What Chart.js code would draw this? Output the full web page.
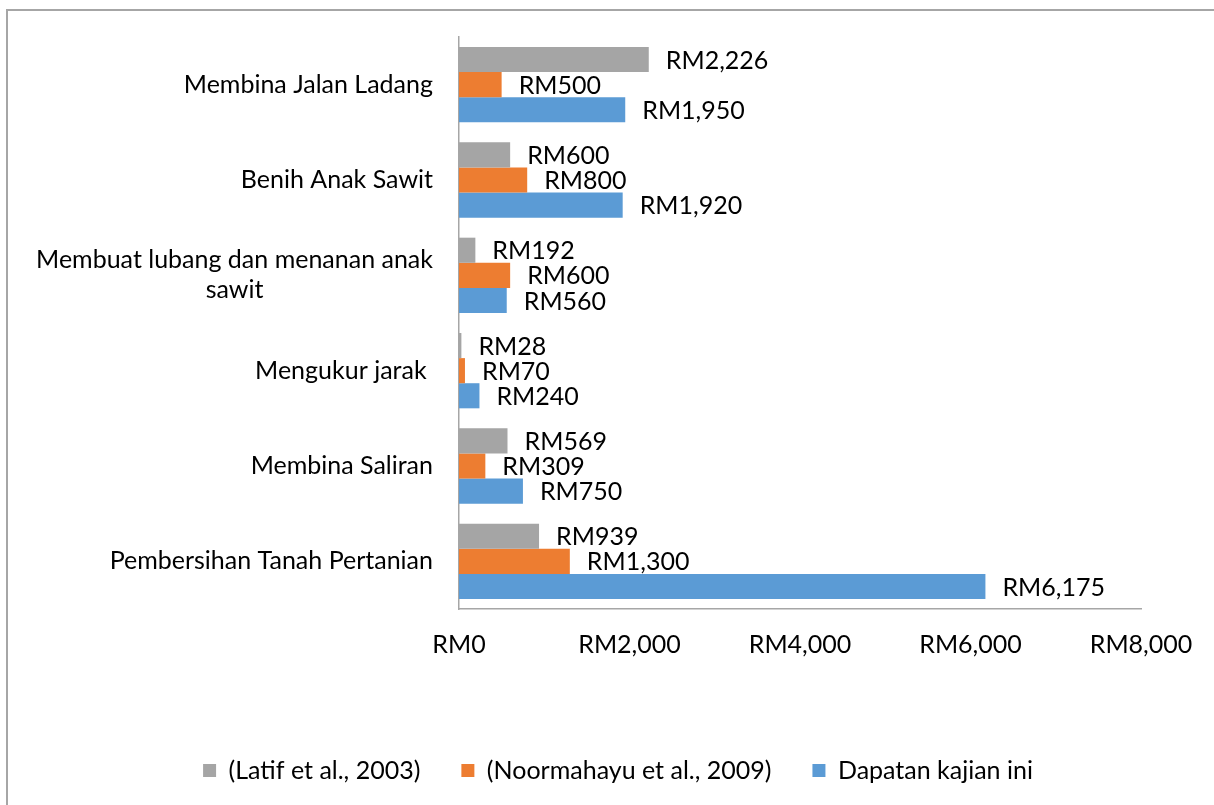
<!DOCTYPE html>
<html>
<head>
<meta charset="utf-8">
<script src="https://cdn.jsdelivr.net/npm/chart.js@4.4.1/dist/chart.umd.min.js"></script>
<style>
    body { margin: 0; background: #ffffff; overflow: hidden; }
    #wrap { position: relative; width: 1214px; height: 805px; }
    #frame {
        position: absolute; left: 6px; top: 9px; right: -10px; bottom: -10px;
        border-left: 2px solid #a6a6a6; border-top: 2px solid #a6a6a6;
        pointer-events: none;
    }
</style>
</head>
<body>
<div id="wrap">
    <canvas id="cost-chart" width="1214" height="805"></canvas>
    <div id="frame"></div>
</div>
<script>
// Categories (top to bottom), wrapped lines as arrays
const categories = [
    ['Membina Jalan Ladang'],
    ['Benih Anak Sawit'],
    ['Membuat lubang dan menanan anak', 'sawit'],
    ['Mengukur jarak '],
    ['Membina Saliran'],
    ['Pembersihan Tanah Pertanian']
];

// Series values (RM)
const latif2003 = [2226, 600, 192, 28, 569, 939];
const noormahayu2009 = [500, 800, 600, 70, 309, 1300];
const dapatanKajian = [1950, 1920, 560, 240, 750, 6175];

const seriesNames = ['(Latif et al., 2003)', '(Noormahayu et al., 2009)', 'Dapatan kajian ini'];

// Axis ticks
const xTicks = [0, 2000, 4000, 6000, 8000];

const FONT = 'Lato, "Open Sans", sans-serif';
const FONT_SIZE = 25;

function formatRM(v) {
    return 'RM' + Number(v).toLocaleString('en-US');
}

// Draw value labels at the end of each bar
const barValueLabels = {
    id: 'barValueLabels',
    afterDatasetsDraw(chart) {
        const ctx = chart.ctx;
        ctx.save();
        ctx.font = FONT_SIZE + 'px ' + FONT;
        ctx.fillStyle = '#000000';
        ctx.textAlign = 'left';
        ctx.textBaseline = 'middle';
        chart.data.datasets.forEach((ds, i) => {
            const meta = chart.getDatasetMeta(i);
            meta.data.forEach((bar, j) => {
                ctx.fillText(formatRM(ds.data[j]), bar.x + 17, bar.y + 1);
            });
        });
        ctx.restore();
    }
};

// Category labels: block right-aligned, wrapped lines centred in the block
const categoryLabels = {
    id: 'categoryLabels',
    afterDraw(chart) {
        const ctx = chart.ctx;
        const yScale = chart.scales.y;
        const right = chart.chartArea.left - 26;
        const lineHeight = 30;
        ctx.save();
        ctx.font = FONT_SIZE + 'px ' + FONT;
        ctx.fillStyle = '#000000';
        ctx.textBaseline = 'middle';
        categories.forEach((lines, i) => {
            const cy = yScale.getPixelForTick(i);
            if (lines.length === 1) {
                ctx.textAlign = 'right';
                ctx.fillText(lines[0], right, cy);
                return;
            }
            const widest = Math.max(...lines.map(l => ctx.measureText(l).width));
            const cx = right - widest / 2;
            const top = cy - (lines.length - 1) * lineHeight / 2;
            ctx.textAlign = 'center';
            lines.forEach((l, k) => ctx.fillText(l, cx, top + k * lineHeight));
        });
        ctx.restore();
    }
};

function renderChart() {
    const ctx = document.getElementById('cost-chart').getContext('2d');
    new Chart(ctx, {
        type: 'bar',
        data: {
            labels: categories.map(c => c.join(' ')),
            datasets: [
                { label: seriesNames[0], data: latif2003, backgroundColor: '#a5a5a5' },
                { label: seriesNames[1], data: noormahayu2009, backgroundColor: '#ed7d31' },
                { label: seriesNames[2], data: dapatanKajian, backgroundColor: '#5b9bd5' }
            ]
        },
        options: {
            indexAxis: 'y',
            responsive: false,
            animation: false,
            categoryPercentage: 0.79,
            barPercentage: 1.0,
            layout: { padding: { top: 37, right: 73, bottom: 12, left: 95 } },
            scales: {
                x: {
                    min: xTicks[0],
                    max: xTicks[xTicks.length - 1],
                    afterBuildTicks: scale => { scale.ticks = xTicks.map(v => ({ value: v })); },
                    grid: { display: false },
                    border: { display: true, color: '#a6a6a6', width: 1.5 },
                    ticks: {
                        padding: 13,
                        color: '#000000',
                        font: { family: FONT, size: FONT_SIZE },
                        callback: v => formatRM(v)
                    },
                    afterFit: scale => { scale.height = 108; }
                },
                y: {
                    grid: { display: false },
                    border: { display: true, color: '#a6a6a6', width: 1.5 },
                    ticks: { display: false },
                    afterFit: scale => { scale.width = 364; }
                }
            },
            plugins: {
                legend: {
                    position: 'bottom',
                    labels: {
                        color: '#000000',
                        font: { family: FONT, size: FONT_SIZE },
                        boxWidth: 13,
                        boxHeight: 13,
                        padding: 41
                    }
                },
                tooltip: { enabled: false }
            }
        },
        plugins: [barValueLabels, categoryLabels]
    });
}

document.addEventListener('DOMContentLoaded', renderChart);
</script>
</body>
</html>
